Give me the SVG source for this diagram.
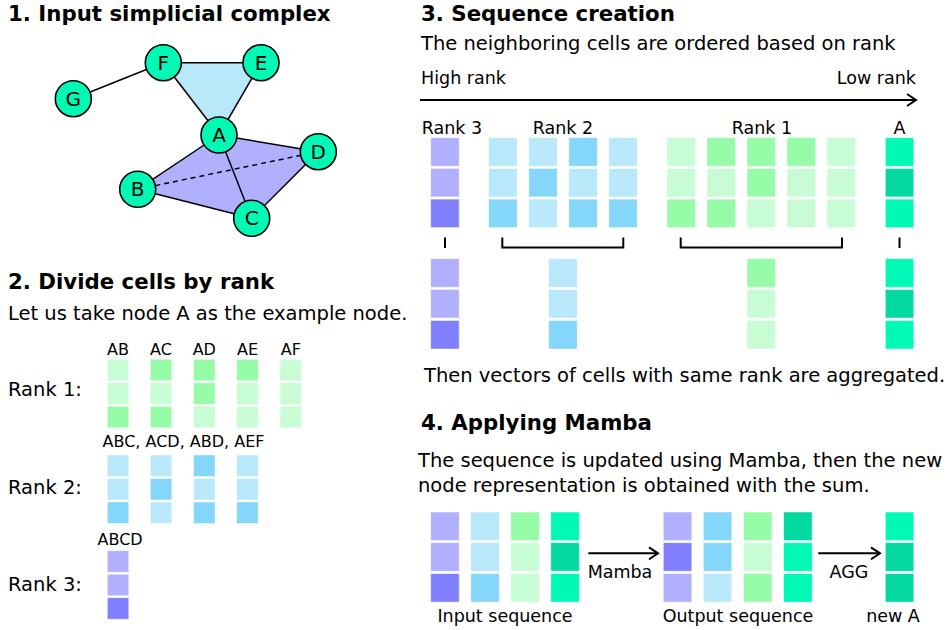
<svg xmlns="http://www.w3.org/2000/svg" width="948" height="630" viewBox="0 0 948 630">
<style>
text{font-family:"DejaVu Sans","Liberation Sans",sans-serif;fill:#000}
.h{font-size:21.3px;font-weight:bold}
.t{font-size:19.5px}
.s{font-size:17.5px}
.xs{font-size:16px}
.nl{font-size:20px;text-anchor:middle}
.node{fill:#00f9b4;stroke:#000;stroke-width:1.6}
.e{stroke:#000;stroke-width:1.5;fill:none}
.P{fill:#b0b0ff}.Pd{fill:#8080ff}
.L{fill:#b8e8fa}.M{fill:#84d6fa}
.l{fill:#c8fcd4}.m{fill:#96fca8}
.T{fill:#00f9b4}.Td{fill:#03d9a0}
rect{stroke:#fff;stroke-width:0.8;stroke-opacity:0.6}
</style>
<defs>
<marker id="ah" markerWidth="12" markerHeight="14" refX="10" refY="7" orient="auto" markerUnits="userSpaceOnUse">
<path d="M1,1 L10,7 L1,13" fill="none" stroke="#000" stroke-width="2"/>
</marker>
</defs>

<!-- Section 1 -->
<text class="h" x="8" y="21">1. Input simplicial complex</text>
<g id="faces">
<polygon points="163.3,62.7 261,62.7 219,135" fill="#b8e8fa"/>
<polygon points="219,135 318.3,151.7 251.7,218.3 137.7,189.3" fill="#b0b0ff"/>
</g>
<g id="edges">
<line class="e" x1="163.3" y1="62.7" x2="261" y2="62.7"/>
<line class="e" x1="163.3" y1="62.7" x2="219" y2="135"/>
<line class="e" x1="261" y1="62.7" x2="219" y2="135"/>
<line class="e" x1="73.3" y1="98.7" x2="163.3" y2="62.7"/>
<line class="e" x1="219" y1="135" x2="318.3" y2="151.7"/>
<line class="e" x1="318.3" y1="151.7" x2="251.7" y2="218.3"/>
<line class="e" x1="251.7" y1="218.3" x2="137.7" y2="189.3"/>
<line class="e" x1="137.7" y1="189.3" x2="219" y2="135"/>
<line class="e" x1="219" y1="135" x2="251.7" y2="218.3"/>
<line class="e" x1="137.7" y1="189.3" x2="318.3" y2="151.7" stroke-width="1" stroke-dasharray="5,4"/>
</g>
<g id="node-F"><circle class="node" cx="163.3" cy="62.7" r="18"/><text class="nl" x="163.3" y="69.8">F</text></g>
<g id="node-E"><circle class="node" cx="261" cy="62.7" r="18"/><text class="nl" x="261" y="69.8">E</text></g>
<g id="node-G"><circle class="node" cx="73.3" cy="98.7" r="18"/><text class="nl" x="73.3" y="105.8">G</text></g>
<g id="node-A"><circle class="node" cx="219" cy="135" r="18"/><text class="nl" x="219" y="142.1">A</text></g>
<g id="node-D"><circle class="node" cx="318.3" cy="151.7" r="18"/><text class="nl" x="318.3" y="158.8">D</text></g>
<g id="node-B"><circle class="node" cx="137.7" cy="189.3" r="18"/><text class="nl" x="137.7" y="196.4">B</text></g>
<g id="node-C"><circle class="node" cx="251.7" cy="218.3" r="18"/><text class="nl" x="251.7" y="225.4">C</text></g>

<!-- Section 2 -->
<text class="h" x="8" y="289">2. Divide cells by rank</text>
<text class="t" x="8" y="320">Let us take node A as the example node.</text>
<text class="t" x="8" y="396">Rank 1:</text>
<text class="t" x="8" y="494">Rank 2:</text>
<text class="t" x="8" y="591">Rank 3:</text>
<g id="rank1-cells" class="xs">
<text x="118" y="355" text-anchor="middle">AB</text>
<text x="161" y="355" text-anchor="middle">AC</text>
<text x="204.3" y="355" text-anchor="middle">AD</text>
<text x="247.5" y="355" text-anchor="middle">AE</text>
<text x="290.8" y="355" text-anchor="middle">AF</text>
<rect class="l" x="107.3" y="359.3" width="21.5" height="21.5"/><rect class="l" x="107.3" y="382.8" width="21.5" height="21.5"/><rect class="m" x="107.3" y="406.3" width="21.5" height="21.5"/>
<rect class="m" x="150.3" y="359.3" width="21.5" height="21.5"/><rect class="l" x="150.3" y="382.8" width="21.5" height="21.5"/><rect class="m" x="150.3" y="406.3" width="21.5" height="21.5"/>
<rect class="m" x="193.5" y="359.3" width="21.5" height="21.5"/><rect class="m" x="193.5" y="382.8" width="21.5" height="21.5"/><rect class="l" x="193.5" y="406.3" width="21.5" height="21.5"/>
<rect class="m" x="236.7" y="359.3" width="21.5" height="21.5"/><rect class="l" x="236.7" y="382.8" width="21.5" height="21.5"/><rect class="l" x="236.7" y="406.3" width="21.5" height="21.5"/>
<rect class="l" x="280" y="359.3" width="21.5" height="21.5"/><rect class="l" x="280" y="382.8" width="21.5" height="21.5"/><rect class="l" x="280" y="406.3" width="21.5" height="21.5"/>
</g>
<g id="rank2-cells">
<text class="xs" x="102.5" y="447">ABC, ACD, ABD, AEF</text>
<rect class="L" x="107.3" y="455" width="21.5" height="21.5"/><rect class="L" x="107.3" y="478.5" width="21.5" height="21.5"/><rect class="M" x="107.3" y="502" width="21.5" height="21.5"/>
<rect class="L" x="150.3" y="455" width="21.5" height="21.5"/><rect class="M" x="150.3" y="478.5" width="21.5" height="21.5"/><rect class="L" x="150.3" y="502" width="21.5" height="21.5"/>
<rect class="M" x="193.5" y="455" width="21.5" height="21.5"/><rect class="L" x="193.5" y="478.5" width="21.5" height="21.5"/><rect class="M" x="193.5" y="502" width="21.5" height="21.5"/>
<rect class="L" x="236.7" y="455" width="21.5" height="21.5"/><rect class="L" x="236.7" y="478.5" width="21.5" height="21.5"/><rect class="M" x="236.7" y="502" width="21.5" height="21.5"/>
</g>
<g id="rank3-cells">
<text class="xs" x="97.5" y="545">ABCD</text>
<rect class="P" x="107.3" y="550.7" width="21.5" height="21.5"/><rect class="P" x="107.3" y="574.2" width="21.5" height="21.5"/><rect class="Pd" x="107.3" y="597.7" width="21.5" height="21.5"/>
</g>

<!-- Section 3 -->
<text class="h" x="421" y="21">3. Sequence creation</text>
<text class="t" x="421" y="50">The neighboring cells are ordered based on rank</text>
<text class="s" x="421" y="84">High rank</text>
<text class="s" x="916" y="84" text-anchor="end">Low rank</text>
<g id="rank-arrow"><line x1="420" y1="100" x2="916" y2="100" stroke="#000" stroke-width="2" marker-end="url(#ah)"/></g>
<g class="s">
<text x="452" y="134" text-anchor="middle">Rank 3</text>
<text x="563" y="134" text-anchor="middle">Rank 2</text>
<text x="762" y="134" text-anchor="middle">Rank 1</text>
<text x="899.5" y="134" text-anchor="middle">A</text>
</g>
<g id="seq-rank3">
<rect class="P" x="430.7" y="137.7" width="28.5" height="28.5"/><rect class="P" x="430.7" y="168.4" width="28.5" height="28.5"/><rect class="Pd" x="430.7" y="199.1" width="28.5" height="28.5"/>
</g>
<g id="seq-rank2">
<rect class="L" x="488.7" y="137.7" width="28.5" height="28.5"/><rect class="L" x="488.7" y="168.4" width="28.5" height="28.5"/><rect class="M" x="488.7" y="199.1" width="28.5" height="28.5"/>
<rect class="L" x="528.8" y="137.7" width="28.5" height="28.5"/><rect class="M" x="528.8" y="168.4" width="28.5" height="28.5"/><rect class="L" x="528.8" y="199.1" width="28.5" height="28.5"/>
<rect class="M" x="568.8" y="137.7" width="28.5" height="28.5"/><rect class="L" x="568.8" y="168.4" width="28.5" height="28.5"/><rect class="M" x="568.8" y="199.1" width="28.5" height="28.5"/>
<rect class="L" x="608.8" y="137.7" width="28.5" height="28.5"/><rect class="L" x="608.8" y="168.4" width="28.5" height="28.5"/><rect class="M" x="608.8" y="199.1" width="28.5" height="28.5"/>
</g>
<g id="seq-rank1">
<rect class="l" x="667" y="137.7" width="28.5" height="28.5"/><rect class="l" x="667" y="168.4" width="28.5" height="28.5"/><rect class="m" x="667" y="199.1" width="28.5" height="28.5"/>
<rect class="m" x="707" y="137.7" width="28.5" height="28.5"/><rect class="l" x="707" y="168.4" width="28.5" height="28.5"/><rect class="m" x="707" y="199.1" width="28.5" height="28.5"/>
<rect class="m" x="747" y="137.7" width="28.5" height="28.5"/><rect class="m" x="747" y="168.4" width="28.5" height="28.5"/><rect class="l" x="747" y="199.1" width="28.5" height="28.5"/>
<rect class="m" x="787" y="137.7" width="28.5" height="28.5"/><rect class="l" x="787" y="168.4" width="28.5" height="28.5"/><rect class="l" x="787" y="199.1" width="28.5" height="28.5"/>
<rect class="l" x="827" y="137.7" width="28.5" height="28.5"/><rect class="l" x="827" y="168.4" width="28.5" height="28.5"/><rect class="l" x="827" y="199.1" width="28.5" height="28.5"/>
</g>
<g id="seq-A">
<rect class="T" x="885.3" y="137.7" width="28.5" height="28.5"/><rect class="Td" x="885.3" y="168.4" width="28.5" height="28.5"/><rect class="T" x="885.3" y="199.1" width="28.5" height="28.5"/>
</g>
<g id="brackets" stroke="#000" stroke-width="2" fill="none">
<line x1="445" y1="237.5" x2="445" y2="248"/>
<path d="M502.3,237.5 V247.5 H623.3 V237.5"/>
<path d="M680.7,237.5 V247.5 H842 V237.5"/>
<line x1="899.5" y1="237.5" x2="899.5" y2="248"/>
</g>
<g id="agg-rank3">
<rect class="P" x="430.7" y="258.7" width="28.5" height="28.5"/><rect class="P" x="430.7" y="289.5" width="28.5" height="28.5"/><rect class="Pd" x="430.7" y="320.5" width="28.5" height="28.5"/>
</g>
<g id="agg-rank2">
<rect class="L" x="548.7" y="258.7" width="28.5" height="28.5"/><rect class="L" x="548.7" y="289.5" width="28.5" height="28.5"/><rect class="M" x="548.7" y="320.5" width="28.5" height="28.5"/>
</g>
<g id="agg-rank1">
<rect class="m" x="747" y="258.7" width="28.5" height="28.5"/><rect class="l" x="747" y="289.5" width="28.5" height="28.5"/><rect class="l" x="747" y="320.5" width="28.5" height="28.5"/>
</g>
<g id="agg-A">
<rect class="T" x="885.3" y="258.7" width="28.5" height="28.5"/><rect class="Td" x="885.3" y="289.5" width="28.5" height="28.5"/><rect class="T" x="885.3" y="320.5" width="28.5" height="28.5"/>
</g>
<text class="t" x="424" y="382">Then vectors of cells with same rank are aggregated.</text>

<!-- Section 4 -->
<text class="h" x="421" y="430">4. Applying Mamba</text>
<text class="t" x="418" y="467">The sequence is updated using Mamba, then the new</text>
<text class="t" x="418" y="492">node representation is obtained with the sum.</text>
<g id="input-seq">
<rect class="P" x="430.7" y="512" width="28.5" height="28.5"/><rect class="P" x="430.7" y="542.7" width="28.5" height="28.5"/><rect class="Pd" x="430.7" y="573.6" width="28.5" height="28.5"/>
<rect class="L" x="470.8" y="512" width="28.5" height="28.5"/><rect class="L" x="470.8" y="542.7" width="28.5" height="28.5"/><rect class="M" x="470.8" y="573.6" width="28.5" height="28.5"/>
<rect class="m" x="510.8" y="512" width="28.5" height="28.5"/><rect class="l" x="510.8" y="542.7" width="28.5" height="28.5"/><rect class="l" x="510.8" y="573.6" width="28.5" height="28.5"/>
<rect class="T" x="550.8" y="512" width="28.5" height="28.5"/><rect class="Td" x="550.8" y="542.7" width="28.5" height="28.5"/><rect class="T" x="550.8" y="573.6" width="28.5" height="28.5"/>
<text class="s" x="505" y="622" text-anchor="middle">Input sequence</text>
</g>
<g id="output-seq">
<rect class="P" x="663.3" y="512" width="28.5" height="28.5"/><rect class="Pd" x="663.3" y="542.7" width="28.5" height="28.5"/><rect class="P" x="663.3" y="573.6" width="28.5" height="28.5"/>
<rect class="M" x="703.3" y="512" width="28.5" height="28.5"/><rect class="M" x="703.3" y="542.7" width="28.5" height="28.5"/><rect class="L" x="703.3" y="573.6" width="28.5" height="28.5"/>
<rect class="m" x="743.5" y="512" width="28.5" height="28.5"/><rect class="l" x="743.5" y="542.7" width="28.5" height="28.5"/><rect class="m" x="743.5" y="573.6" width="28.5" height="28.5"/>
<rect class="Td" x="783.6" y="512" width="28.5" height="28.5"/><rect class="T" x="783.6" y="542.7" width="28.5" height="28.5"/><rect class="T" x="783.6" y="573.6" width="28.5" height="28.5"/>
<text class="s" x="738" y="622" text-anchor="middle">Output sequence</text>
</g>
<g id="new-A">
<rect class="T" x="885.3" y="512" width="28.5" height="28.5"/><rect class="Td" x="885.3" y="542.7" width="28.5" height="28.5"/><rect class="Td" x="885.3" y="573.6" width="28.5" height="28.5"/>
<text class="s" x="893" y="622" text-anchor="middle">new A</text>
</g>
<g id="connectors">
<line x1="588.3" y1="553.3" x2="658" y2="553.3" stroke="#000" stroke-width="2" marker-end="url(#ah)"/>
<text class="s" x="620" y="578" text-anchor="middle">Mamba</text>
<line x1="818.3" y1="553.3" x2="880" y2="553.3" stroke="#000" stroke-width="2" marker-end="url(#ah)"/>
<text class="s" x="849" y="578" text-anchor="middle">AGG</text>
</g>
</svg>
